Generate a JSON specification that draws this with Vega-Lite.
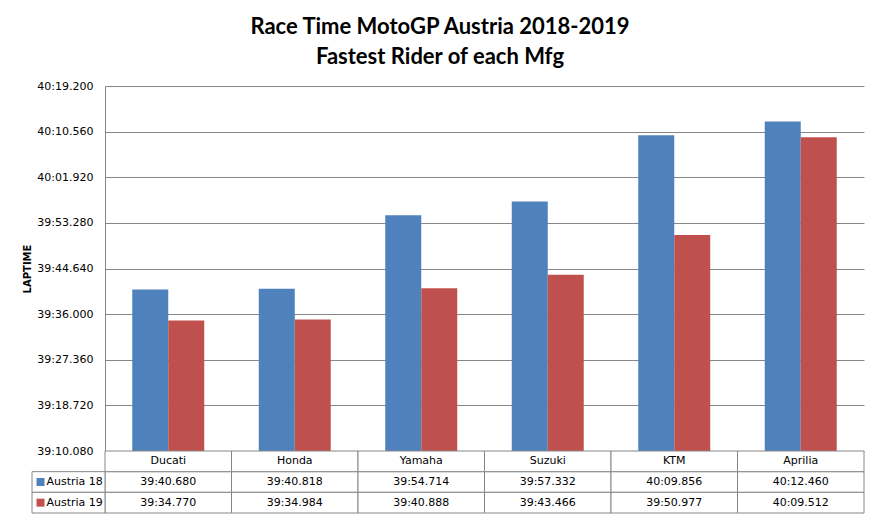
{
  "$schema": "https://vega.github.io/schema/vega-lite/v6.json",
  "width": 759,
  "height": 427,
  "autosize": "none",
  "padding": {"left": 105, "top": 86, "right": 16, "bottom": 10},
  "background": "white",
  "title": {
    "text": ["Race Time MotoGP Austria 2018-2019", "Fastest Rider of each Mfg"],
    "font": "Lato",
    "fontSize": 22,
    "fontWeight": "bold",
    "color": "black",
    "anchor": "middle",
    "frame": "group",
    "dx": -44.5,
    "offset": 11,
    "lineHeight": 30
  },
  "config": {"view": {"stroke": null}, "font": "DejaVu Sans"},
  "data": {
    "values": [
      {"mfg": "Ducati", "series": "Austria 18", "secs": 2380.680, "time": "39:40.680"},
      {"mfg": "Ducati", "series": "Austria 19", "secs": 2374.770, "time": "39:34.770"},
      {"mfg": "Honda", "series": "Austria 18", "secs": 2380.818, "time": "39:40.818"},
      {"mfg": "Honda", "series": "Austria 19", "secs": 2374.984, "time": "39:34.984"},
      {"mfg": "Yamaha", "series": "Austria 18", "secs": 2394.714, "time": "39:54.714"},
      {"mfg": "Yamaha", "series": "Austria 19", "secs": 2380.888, "time": "39:40.888"},
      {"mfg": "Suzuki", "series": "Austria 18", "secs": 2397.332, "time": "39:57.332"},
      {"mfg": "Suzuki", "series": "Austria 19", "secs": 2383.466, "time": "39:43.466"},
      {"mfg": "KTM", "series": "Austria 18", "secs": 2409.856, "time": "40:09.856"},
      {"mfg": "KTM", "series": "Austria 19", "secs": 2390.977, "time": "39:50.977"},
      {"mfg": "Aprilia", "series": "Austria 18", "secs": 2412.460, "time": "40:12.460"},
      {"mfg": "Aprilia", "series": "Austria 19", "secs": 2409.512, "time": "40:09.512"}
    ]
  },
  "resolve": {"scale": {"x": "independent", "y": "independent"}},
  "layer": [
    {
      "mark": {"type": "bar"},
      "encoding": {
        "x": {
          "field": "mfg",
          "type": "nominal",
          "sort": null,
          "scale": {"paddingInner": 0.431, "paddingOuter": 0.2155},
          "axis": null
        },
        "xOffset": {
          "field": "series",
          "type": "nominal",
          "scale": {"paddingInner": 0, "paddingOuter": 0}
        },
        "y": {
          "field": "secs",
          "type": "quantitative",
          "scale": {"domain": [2350.08, 2419.2], "range": [365, 0], "zero": false, "nice": false},
          "axis": {
            "values": [2350.08, 2358.72, 2367.36, 2376, 2384.64, 2393.28, 2401.92, 2410.56, 2419.2],
            "labelExpr": "utcFormat(round(datum.value * 1000), '%M:%S.%L')",
            "ticks": false,
            "labelPadding": 12,
            "labelFont": "DejaVu Sans",
            "labelFontSize": 11,
            "labelColor": "black",
            "labelOverlap": false,
            "labelFlush": false,
            "gridColor": "#868686",
            "gridOpacity": 1,
            "domainColor": "#868686",
            "title": "LAPTIME",
            "titleFont": "DejaVu Sans",
            "titleFontSize": 10,
            "titleFontWeight": "bold",
            "titleColor": "black",
            "titlePadding": 4
          }
        },
        "y2": {"datum": 2350.08},
        "color": {
          "field": "series",
          "type": "nominal",
          "scale": {"domain": ["Austria 18", "Austria 19"], "range": ["#4F81BD", "#C0504D"]},
          "legend": null
        }
      }
    },
    {
      "encoding": {
        "x": {
          "field": "mfg",
          "type": "nominal",
          "sort": null,
          "scale": {"paddingInner": 0, "paddingOuter": 0},
          "axis": null
        }
      },
      "layer": [
        {
          "mark": {"type": "rect", "fill": "white", "stroke": "#868686", "strokeWidth": 1},
          "encoding": {
            "y": {
              "field": "series",
              "type": "nominal",
              "scale": {"domain": ["Mfg", "Austria 18", "Austria 19"], "range": [365, 427], "paddingInner": 0, "paddingOuter": 0},
              "axis": null
            }
          }
        },
        {
          "transform": [{"filter": "datum.series == 'Austria 18'"}],
          "mark": {"type": "rect", "fill": "white", "stroke": "#868686", "strokeWidth": 1},
          "encoding": {"y": {"datum": "Mfg", "type": "nominal"}}
        },
        {
          "mark": {"type": "text", "font": "DejaVu Sans", "fontSize": 11, "color": "black", "align": "center", "baseline": "middle"},
          "encoding": {
            "y": {"field": "series", "type": "nominal"},
            "text": {"field": "time"}
          }
        },
        {
          "transform": [{"filter": "datum.series == 'Austria 18'"}],
          "mark": {"type": "text", "font": "DejaVu Sans", "fontSize": 11, "color": "black", "align": "center", "baseline": "middle"},
          "encoding": {
            "y": {"datum": "Mfg", "type": "nominal"},
            "text": {"field": "mfg"}
          }
        }
      ]
    },
    {
      "transform": [{"filter": "datum.mfg == 'Ducati'"}],
      "encoding": {
        "x": {
          "datum": "key",
          "type": "nominal",
          "scale": {"domain": ["key"], "range": [-73, 0], "paddingInner": 0, "paddingOuter": 0},
          "axis": null
        },
        "y": {
          "field": "series",
          "type": "nominal",
          "scale": {"domain": ["Mfg", "Austria 18", "Austria 19"], "range": [365, 427], "paddingInner": 0, "paddingOuter": 0},
          "axis": null
        }
      },
      "layer": [
        {
          "mark": {"type": "rect", "fill": "white", "stroke": "#868686", "strokeWidth": 1}
        },
        {
          "mark": {"type": "square", "size": 64, "filled": true, "opacity": 1, "xOffset": 8.5},
          "encoding": {
            "x": {"datum": "key", "type": "nominal", "bandPosition": 0},
            "color": {"field": "series", "type": "nominal", "legend": null}
          }
        },
        {
          "mark": {"type": "text", "font": "DejaVu Sans", "fontSize": 11, "color": "black", "align": "left", "baseline": "middle", "dx": 14.5},
          "encoding": {
            "x": {"datum": "key", "type": "nominal", "bandPosition": 0},
            "text": {"field": "series"}
          }
        }
      ]
    }
  ]
}
